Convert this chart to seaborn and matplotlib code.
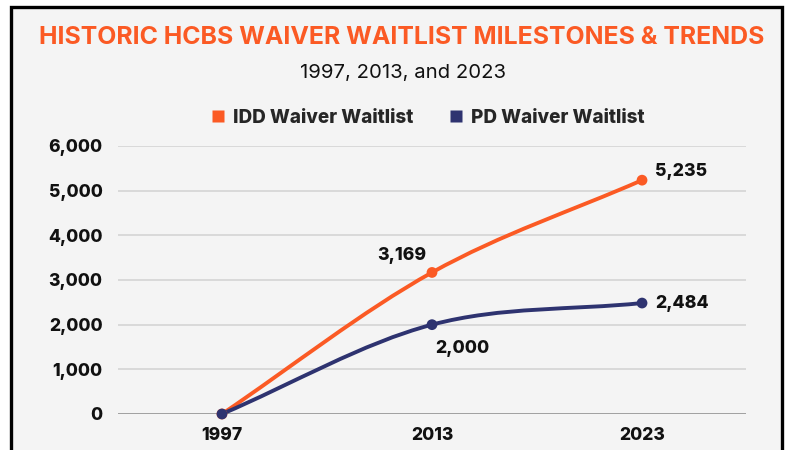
import numpy as np
import pandas as pd
import seaborn as sns
import matplotlib.pyplot as plt
from matplotlib.path import Path
from matplotlib.patches import PathPatch, Rectangle
from matplotlib.lines import Line2D

years = ["1997", "2013", "2023"]
idd_waitlist = [0, 3169, 5235]
pd_waitlist = [0, 2000, 2484]
series_names = ["IDD Waiver Waitlist", "PD Waiver Waitlist"]
y_ticks = [0, 1000, 2000, 3000, 4000, 5000, 6000]

ORANGE = "#fb5a24"
NAVY = "#2e3370"
BG = "#f4f4f4"
FONT = "Inter"

sns.set_theme(style="white")
plt.rcParams["font.family"] = [FONT, "DejaVu Sans"]

W, H = 788, 450
fig = plt.figure(figsize=(W / 100, H / 100), dpi=100, facecolor="white")


def fx(px):
    return px / W


def fy(py):
    return 1 - py / H


# card with black frame
fig.patches.append(Rectangle((fx(11), -0.05), fx(782) - fx(11), fy(7) + 0.05,
                             transform=fig.transFigure, facecolor=BG,
                             edgecolor="black", linewidth=2.4, zorder=-1))

ax = fig.add_axes([fx(118), fy(414), fx(746) - fx(118), fy(146) - fy(414)])
ax.set_zorder(2)
ax.set_facecolor(BG)

df = pd.DataFrame({
    "pos": list(range(len(years))) * 2,
    "value": idd_waitlist + pd_waitlist,
    "series": [series_names[0]] * 3 + [series_names[1]] * 3,
})


def monotone_path(xs, ys):
    xs = np.asarray(xs, float)
    ys = np.asarray(ys, float)
    d = np.diff(ys) / np.diff(xs)
    m = np.empty(len(xs))
    m[0], m[-1] = d[0], d[-1]
    for i in range(1, len(xs) - 1):
        m[i] = 0 if d[i - 1] * d[i] <= 0 else (d[i - 1] + d[i]) / 2
    verts = [(xs[0], ys[0])]
    codes = [Path.MOVETO]
    for i in range(len(xs) - 1):
        h = xs[i + 1] - xs[i]
        verts += [(xs[i] + h / 3, ys[i] + m[i] * h / 3),
                  (xs[i + 1] - h / 3, ys[i + 1] - m[i + 1] * h / 3),
                  (xs[i + 1], ys[i + 1])]
        codes += [Path.CURVE4] * 3
    return Path(verts, codes)


palette = {series_names[0]: ORANGE, series_names[1]: NAVY}
for name in series_names:
    sub = df[df["series"] == name]
    ax.add_patch(PathPatch(monotone_path(sub["pos"], sub["value"]), fill=False,
                           edgecolor=palette[name], linewidth=2.8,
                           capstyle="round", zorder=3))

sns.scatterplot(data=df, x="pos", y="value", hue="series", palette=palette,
                s=60, edgecolor="none", legend=False, ax=ax, zorder=4,
                clip_on=False)

ax.set_xlim(-0.495, 2.495)
ax.set_ylim(0, 6000)
ax.set_xticks(range(len(years)))
ax.set_xticklabels(years)
ax.set_yticks(y_ticks)
ax.set_yticklabels([f"{v:,}" for v in y_ticks])
ax.set_xlabel("")
ax.set_ylabel("")
ax.tick_params(axis="both", length=0, labelsize=12.6, colors="#111111")
ax.tick_params(axis="y", pad=11)
ax.tick_params(axis="x", pad=9)
for lab in ax.get_xticklabels() + ax.get_yticklabels():
    lab.set_fontweight("heavy")
for sp in ax.spines.values():
    sp.set_visible(False)
for v in y_ticks[1:]:
    ax.axhline(v, color="#d2d2d2", linewidth=1.1, zorder=1)
ax.axhline(0, color="#8a8a8a", linewidth=1.1, zorder=1)

# value labels
label_style = dict(textcoords="offset pixels", fontsize=12.7, fontweight="heavy",
                   color="#111111", va="center", annotation_clip=False)
ax.annotate(f"{idd_waitlist[1]:,}", (1, idd_waitlist[1]), xytext=(-30, 17),
            ha="center", **label_style)
ax.annotate(f"{idd_waitlist[2]:,}", (2, idd_waitlist[2]), xytext=(13, 9),
            ha="left", **label_style)
ax.annotate(f"{pd_waitlist[1]:,}", (1, pd_waitlist[1]), xytext=(30, -24),
            ha="center", **label_style)
ax.annotate(f"{pd_waitlist[2]:,}", (2, pd_waitlist[2]), xytext=(13, 0),
            ha="left", **label_style)

# legend
handles = [Line2D([], [], marker="s", linestyle="none", markersize=8,
                  markerfacecolor=palette[n], markeredgecolor="none", label=n)
           for n in series_names]
leg = fig.legend(handles=handles, loc="center", ncol=2,
                 bbox_to_anchor=(fx(428), fy(118)), frameon=False,
                 prop={"family": FONT, "weight": "heavy", "size": 13.6},
                 handletextpad=0.45, columnspacing=1.9, handlelength=0.7)

fig.text(fx(402), fy(37), "HISTORIC HCBS WAIVER WAITLIST MILESTONES & TRENDS",
         ha="center", va="center", color=ORANGE, fontsize=17.9, fontweight="bold")
fig.text(fx(403), fy(73), "1997, 2013, and 2023", ha="center", va="center",
         color="#111111", fontsize=14.6)

fig.savefig("out.png", dpi=100, facecolor="white")
